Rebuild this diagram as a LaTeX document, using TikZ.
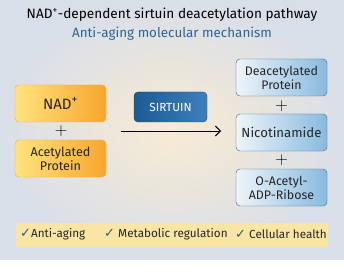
\documentclass[tikz,border=0pt]{standalone}
\usepackage{fontspec}
\setmainfont{Fira Sans}
\newfontfamily\symfont{DejaVu Sans}
\usetikzlibrary{arrows.meta}
\definecolor{bgin}{HTML}{F8EBD3}
\definecolor{bgout}{HTML}{D9DFE8}
\definecolor{subblue}{HTML}{2B6595}
\definecolor{ylight}{HTML}{FFE37E}
\definecolor{ydark}{HTML}{F8A62C}
\definecolor{yedge}{HTML}{E9B04A}
\definecolor{blight}{HTML}{EEF4F9}
\definecolor{bdark}{HTML}{88BADF}
\definecolor{bedge}{HTML}{4C6275}
\definecolor{sirtA}{HTML}{1D5A93}
\definecolor{sirtB}{HTML}{3C80BC}
\definecolor{bandcol}{HTML}{FAE6A4}
\definecolor{tickcol}{HTML}{2E5E78}
\tikzset{
  inbox/.style={draw=yedge, rounded corners=4pt, left color=ylight, right color=ydark,
    minimum width=91pt, minimum height=37pt, align=center, text=black!85},
  outbox/.style={draw=bedge, rounded corners=4pt, left color=blight, right color=bdark,
    minimum width=91pt, minimum height=37pt, align=center, text=black!85},
  plus/.style={font=\fontsize{19}{19}\selectfont, inner sep=0pt},
  benefit/.style={font=\fontsize{11.7}{13}\selectfont, text=black!85, inner sep=0pt}
}
\newcommand{\chk}{{\symfont\color{tickcol}\fontsize{13}{13}\selectfont ✓}}
\begin{document}
\begin{tikzpicture}[x=1pt, y=-1pt]
    \useasboundingbox (0,0) rectangle (344,280);
    \shade[inner color=bgin, outer color=bgout] (0,0) rectangle (344,260);
    \fill[white] (0,260) rectangle (344,280);
    % titles
    \node (title) at (172,15) {\fontsize{13.6}{15}\selectfont NAD\textsuperscript{+}-dependent sirtuin deacetylation pathway};
    \node[text=subblue] (subtitle) at (172,34) {\fontsize{13.4}{15}\selectfont Anti-aging molecular mechanism};
    % substrates
    \node[inbox, font=\fontsize{15}{17}\selectfont] (nad) at (60.5,103.5) {NAD{\fontsize{17}{17}\selectfont\textsuperscript{+}}};
    \node[plus] (plus1) at (61,131) {$+$};
    \node[inbox, font=\fontsize{12.6}{14}\selectfont] (acprot) at (60.5,158.5) {Acetylated\\Protein};
    % enzyme
    \node[draw=sirtA!80!black, rounded corners=4pt, left color=sirtA, right color=sirtB,
      minimum width=73pt, minimum height=30pt, text=white, font=\fontsize{11.8}{13}\selectfont] (sirt) at (170.5,107) {SIRTUIN};
    \coordinate (a1) at (121,131);
    \coordinate (a2) at (221,131);
    \draw[line width=0.9pt, -{Straight Barb[length=5pt, width=10pt]}] (a1) -- (a2);
    % products
    \node[outbox, font=\fontsize{12.4}{14}\selectfont] (deprot) at (281.5,77.5) {Deacetylated\\Protein};
    \node[plus] (plus2) at (281.5,106) {$+$};
    \node[outbox, font=\fontsize{13.2}{15}\selectfont] (nicot) at (281.5,132.5) {Nicotinamide};
    \node[plus] (plus3) at (281.5,160) {$+$};
    \node[outbox, font=\fontsize{12.4}{14}\selectfont] (oadpr) at (281.5,187.5) {O-Acetyl-\\ADP-Ribose};
    % benefits
    \fill[bandcol] (16,223) rectangle (328,247);
    \node[benefit, anchor=west] (b1) at (20,234.5) {\chk Anti-aging};
    \node[benefit, anchor=west] (b2) at (104,234.5) {\chk\ Metabolic regulation};
    \node[benefit, anchor=west] (b3) at (235,234.5) {\chk\ Cellular health};
\end{tikzpicture}
\end{document}
